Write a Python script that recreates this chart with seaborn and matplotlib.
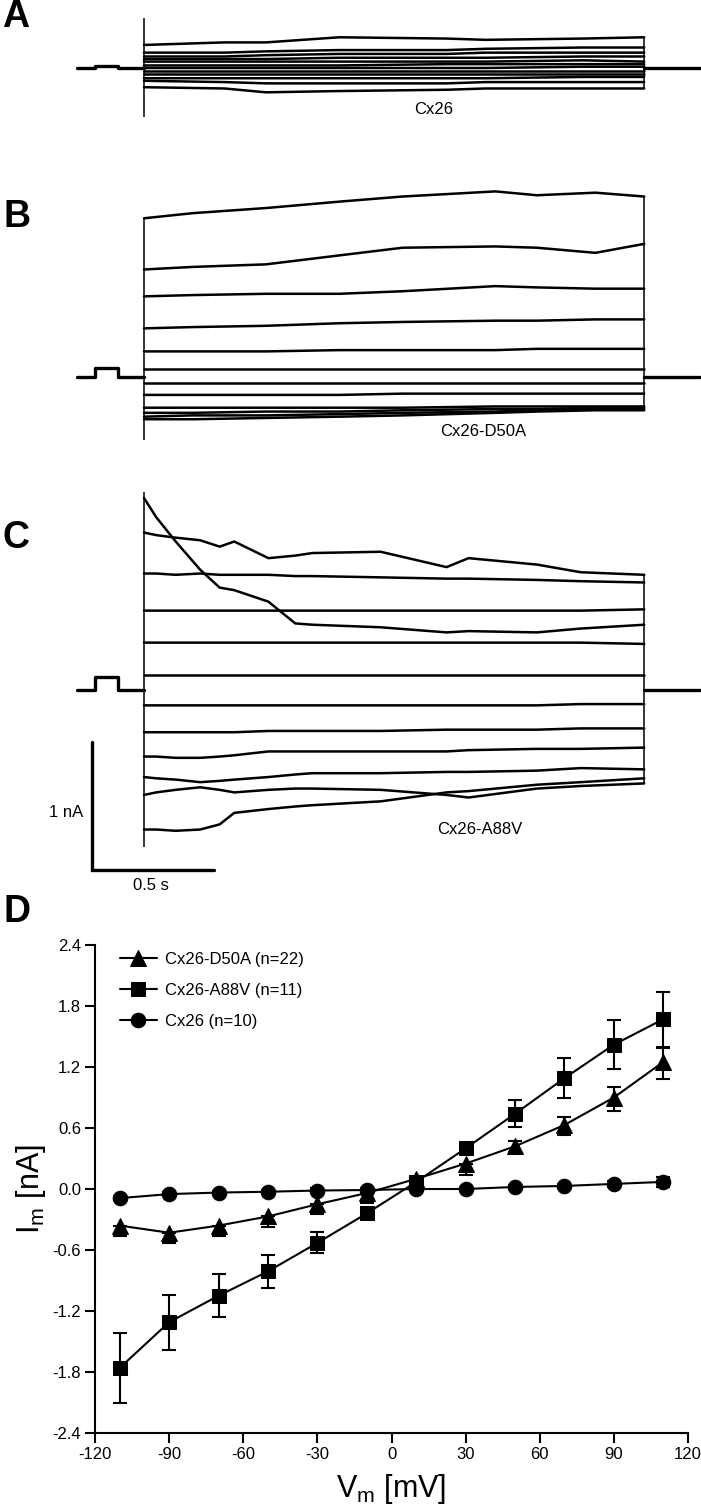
"""
Whole-cell current traces (A-C) and I-V relation (D) for Cx26 and mutants.
"""

import matplotlib
matplotlib.use("Agg")

import numpy as np
import pandas as pd
import matplotlib.pyplot as plt
import seaborn as sns

sns.set_theme(context="paper", style="ticks")
plt.rcParams["font.family"] = ["Liberation Sans", "DejaVu Sans"]
plt.rcParams["mathtext.default"] = "regular"
plt.rcParams["axes.unicode_minus"] = False
for key in ["text.color", "axes.labelcolor", "xtick.color", "ytick.color",
            "axes.edgecolor"]:
  plt.rcParams[key] = "black"

W, H = 701, 1509

# ---- panels A-C: currents (nA) vs time (s from pulse onset) ----
PULSE_END = 2.05
T_START, T_END = -0.275, 2.28
PRE_ON, PRE_OFF = -0.20, -0.107

a_time = [0.0, 0.33, 0.5, 0.8, 1.24, 1.4, 1.8, 2.05]
a_currents = [
    [0.18, 0.20, 0.20, 0.24, 0.23, 0.22, 0.23, 0.24],
    [0.12, 0.12, 0.13, 0.14, 0.14, 0.15, 0.16, 0.16],
    [0.09, 0.09, 0.10, 0.11, 0.11, 0.12, 0.12, 0.12],
    [0.07, 0.07, 0.07, 0.08, 0.08, 0.08, 0.09, 0.09],
    [0.05, 0.05, 0.05, 0.05, 0.05, 0.05, 0.06, 0.05],
    [0.02, 0.02, 0.02, 0.02, 0.03, 0.03, 0.03, 0.03],
    [0.00, 0.00, 0.00, 0.00, 0.00, 0.00, 0.01, 0.01],
    [-0.02, -0.02, -0.02, -0.02, -0.02, -0.02, -0.02, -0.02],
    [-0.05, -0.05, -0.05, -0.05, -0.05, -0.05, -0.05, -0.05],
    [-0.08, -0.08, -0.08, -0.08, -0.08, -0.08, -0.07, -0.07],
    [-0.10, -0.11, -0.12, -0.12, -0.12, -0.11, -0.11, -0.11],
    [-0.15, -0.16, -0.19, -0.18, -0.17, -0.16, -0.16, -0.16],
]
a_prepulse = 0.012
a_onset = [0.39, -0.38]

b_time = [0.0, 0.2, 0.5, 0.8, 1.06, 1.44, 1.61, 1.85, 2.05]
b_currents = [
    [1.24, 1.28, 1.32, 1.37, 1.41, 1.45, 1.42, 1.44, 1.41],
    [0.84, 0.86, 0.88, 0.95, 1.01, 1.02, 1.01, 0.97, 1.04],
    [0.63, 0.64, 0.65, 0.65, 0.67, 0.71, 0.70, 0.69, 0.69],
    [0.38, 0.39, 0.40, 0.42, 0.43, 0.44, 0.44, 0.45, 0.45],
    [0.20, 0.20, 0.20, 0.21, 0.21, 0.21, 0.22, 0.22, 0.22],
    [0.06, 0.06, 0.06, 0.06, 0.06, 0.06, 0.06, 0.06, 0.06],
    [-0.05, -0.05, -0.05, -0.05, -0.05, -0.05, -0.05, -0.05, -0.05],
    [-0.14, -0.14, -0.14, -0.14, -0.13, -0.13, -0.13, -0.13, -0.13],
    [-0.24, -0.24, -0.24, -0.24, -0.24, -0.23, -0.23, -0.23, -0.23],
    [-0.28, -0.28, -0.27, -0.27, -0.26, -0.25, -0.25, -0.24, -0.24],
    [-0.31, -0.30, -0.30, -0.29, -0.28, -0.27, -0.26, -0.25, -0.25],
    [-0.33, -0.33, -0.32, -0.31, -0.30, -0.28, -0.27, -0.26, -0.26],
]
b_prepulse = 0.07
b_onset = [1.24, -0.49]

c_time = [0.0, 0.05, 0.13, 0.23, 0.31, 0.37, 0.51, 0.62, 0.69, 0.97, 1.24,
          1.33, 1.61, 1.79, 2.05]
c_currents = [
    [1.50, 1.35, 1.16, 0.94, 0.80, 0.78, 0.69, 0.52, 0.51, 0.49, 0.45,
     0.46, 0.45, 0.48, 0.51],
    [1.23, 1.21, 1.19, 1.17, 1.12, 1.16, 1.03, 1.05, 1.07, 1.08, 0.96,
     1.03, 0.98, 0.92, 0.90],
    [0.91, 0.91, 0.90, 0.91, 0.90, 0.90, 0.90, 0.89, 0.89, 0.88, 0.87,
     0.87, 0.86, 0.85, 0.84],
    [0.62, 0.62, 0.62, 0.62, 0.62, 0.62, 0.62, 0.62, 0.62, 0.62, 0.62,
     0.62, 0.62, 0.62, 0.63],
    [0.37, 0.37, 0.37, 0.37, 0.37, 0.37, 0.37, 0.37, 0.37, 0.37, 0.37,
     0.37, 0.37, 0.37, 0.36],
    [0.12, 0.12, 0.12, 0.12, 0.12, 0.12, 0.12, 0.12, 0.12, 0.12, 0.12,
     0.12, 0.12, 0.12, 0.12],
    [-0.12, -0.12, -0.12, -0.12, -0.12, -0.12, -0.12, -0.12, -0.12, -0.12,
     -0.12, -0.12, -0.12, -0.11, -0.11],
    [-0.33, -0.33, -0.33, -0.33, -0.33, -0.33, -0.32, -0.32, -0.32, -0.32,
     -0.31, -0.31, -0.31, -0.30, -0.30],
    [-0.52, -0.52, -0.53, -0.53, -0.52, -0.51, -0.48, -0.48, -0.48, -0.48,
     -0.48, -0.47, -0.46, -0.46, -0.45],
    [-0.68, -0.69, -0.70, -0.72, -0.71, -0.70, -0.68, -0.66, -0.65, -0.65,
     -0.64, -0.64, -0.63, -0.61, -0.62],
    [-0.82, -0.80, -0.78, -0.76, -0.78, -0.80, -0.78, -0.77, -0.77, -0.78,
     -0.82, -0.84, -0.77, -0.75, -0.73],
    [-1.09, -1.09, -1.10, -1.09, -1.05, -0.96, -0.93, -0.91, -0.90, -0.87,
     -0.80, -0.79, -0.74, -0.72, -0.69],
]
c_prepulse = 0.10
c_onset = [1.55, -1.23]

trace_labels = ["Cx26", "Cx26-D50A", "Cx26-A88V"]

# scale bar: 1 nA x 0.5 s, lower-left corner in panel C data units
bar_corner = (-0.213, -1.406)
bar_size = (0.5, 1.0)

# ---- panel D: I-V relation (upper / lower error as drawn) ----
vm = [-110, -90, -70, -50, -30, -10, 10, 30, 50, 70, 90, 110]
d50a_mean = [-0.36, -0.43, -0.36, -0.27, -0.15, -0.04, 0.10, 0.25, 0.42,
             0.63, 0.90, 1.25]
d50a_err_lo = [0.10, 0.10, 0.10, 0.10, 0.10, 0.10, 0.05, 0.11, 0.06, 0.10,
               0.13, 0.17]
d50a_err_hi = [0.0, 0.0, 0.0, 0.0, 0.0, 0.0, 0.0, 0.0, 0.05, 0.08, 0.10,
               0.15]
a88v_mean = [-1.76, -1.31, -1.05, -0.81, -0.53, -0.24, 0.07, 0.40, 0.74,
             1.09, 1.42, 1.67]
a88v_err_lo = [0.34, 0.27, 0.21, 0.16, 0.10, 0.03, 0.03, 0.04, 0.13, 0.19,
               0.24, 0.28]
a88v_err_hi = [0.34, 0.27, 0.21, 0.16, 0.11, 0.03, 0.03, 0.04, 0.14, 0.20,
               0.24, 0.27]
cx26_mean = [-0.09, -0.05, -0.035, -0.027, -0.015, -0.01, 0.0, 0.0, 0.02,
             0.03, 0.05, 0.07]
cx26_err = [0.02, 0.02, 0.02, 0.02, 0.02, 0.02, 0.02, 0.02, 0.02, 0.02,
            0.03, 0.05]
iv_labels = ["Cx26-D50A (n=22)", "Cx26-A88V (n=11)", "Cx26 (n=10)"]


def fx(x):
  return x / W


def fy(y):
  return 1 - y / H


# pixel scale of the recordings: 244 px per s, 128 px per nA
PX_S, PX_NA, T0_PX = 244.0, 128.0, 144.0


def trace_axes(fig, top, bottom, base):
  ax = fig.add_axes([0, fy(bottom), 1, (bottom - top) / H])
  ax.set_xlim(-T0_PX / PX_S, (W - T0_PX) / PX_S)
  ax.set_ylim(-(bottom - base) / PX_NA, (base - top) / PX_NA)
  ax.axis("off")
  return ax


def draw_traces(ax, times, currents, prepulse, onset):
  rows = [(k, t, i) for k, tr in enumerate(currents)
          for t, i in zip(times, tr)]
  df = pd.DataFrame(rows, columns=["trace", "t", "I"])
  sns.lineplot(data=df, x="t", y="I", units="trace", estimator=None,
               sort=False, color="black", lw=1.8, ax=ax, legend=False)
  hold = pd.DataFrame({
      "t": [T_START, PRE_ON, PRE_ON, PRE_OFF, PRE_OFF, 0.0],
      "I": [0, 0, prepulse, prepulse, 0, 0]})
  sns.lineplot(data=hold, x="t", y="I", estimator=None, sort=False,
               color="black", lw=2.4, ax=ax)
  tail = pd.DataFrame({"t": [PULSE_END, T_END], "I": [0, 0]})
  sns.lineplot(data=tail, x="t", y="I", estimator=None, sort=False,
               color="black", lw=2.4, ax=ax)
  ends = [tr[-1] for tr in currents]
  ax.vlines(0, onset[1], onset[0], color="black", lw=1.1)
  ax.vlines(PULSE_END, min(ends), max(ends), color="black", lw=1.1)
  ax.set_xlabel("")
  ax.set_ylabel("")


fig = plt.figure(figsize=(W / 100, H / 100), dpi=100)

ax_a = trace_axes(fig, 0, 160, 68)
draw_traces(ax_a, a_time, a_currents, a_prepulse, a_onset)
ax_b = trace_axes(fig, 160, 480, 377)
draw_traces(ax_b, b_time, b_currents, b_prepulse, b_onset)
ax_c = trace_axes(fig, 480, 905, 690)
draw_traces(ax_c, c_time, c_currents, c_prepulse, c_onset)

for (x, y), lab in zip([(434, 110), (483, 432), (480, 830)], trace_labels):
  fig.text(fx(x), fy(y), lab, ha="center", va="center", fontsize=12)

# scale bar
bx, by = bar_corner
ax_c.plot([bx, bx, bx + bar_size[0]], [by + bar_size[1], by, by],
          color="black", lw=2.4, solid_joinstyle="miter")
ax_c.text(bx - 0.035, by + 0.45, "1 nA", ha="right", va="center",
          fontsize=12)
ax_c.text(bx + 0.24, by - 0.125, "0.5 s", ha="center", va="center",
          fontsize=12)

# panel letters
for (x, y), letter in zip([(2, 17), (3, 217), (3, 538), (3, 912)], "ABCD"):
  fig.text(fx(x), fy(y), letter, ha="left", va="center", fontsize=27,
           fontweight="bold")

# ---- panel D ----
ax_d = fig.add_axes([fx(95), fy(1433), (688 - 95) / W, (1433 - 945) / H])
series = [
    (d50a_mean, [d50a_err_lo, d50a_err_hi], "^", 12),
    (a88v_mean, [a88v_err_lo, a88v_err_hi], "s", 10),
    (cx26_mean, cx26_err, "o", 10.5),
]
for (mean, err, mk, ms), lab in zip(series, iv_labels):
  ax_d.errorbar(vm, mean, yerr=err, fmt="none", ecolor="black",
                elinewidth=1.5, capsize=5, capthick=1.5, zorder=2)
  sns.lineplot(x=vm, y=mean, marker=mk, markersize=ms, color="black",
               markeredgecolor="black", lw=1.5, label=lab, ax=ax_d,
               zorder=3)

ax_d.set_xlim(-120, 120)
ax_d.set_ylim(-2.4, 2.4)
xt = np.arange(-120, 121, 30)
yt = np.round(np.arange(-2.4, 2.41, 0.6), 1)
ax_d.set_xticks(xt)
ax_d.set_xticklabels([str(v) for v in xt])
ax_d.set_yticks(yt)
ax_d.set_yticklabels([f"{v + 0.0:.1f}" for v in yt])
ax_d.tick_params(direction="out", length=7, width=1.5, labelsize=12,
                 pad=3, color="black")
for side in ["left", "bottom"]:
  ax_d.spines[side].set_linewidth(1.5)
  ax_d.spines[side].set_color("black")
sns.despine(ax=ax_d)
ax_d.set_xlabel("V$_{m}$ [mV]", fontsize=22, labelpad=7)
ax_d.set_ylabel("I$_{m}$ [nA]", fontsize=22, labelpad=3)

ax_d.legend(loc="upper left", bbox_to_anchor=(0.042, 0.985), frameon=False,
            fontsize=12, handlelength=2.2, handletextpad=0.5,
            labelspacing=0.95, borderpad=0, borderaxespad=0)

fig.savefig("out.png", dpi=100)
